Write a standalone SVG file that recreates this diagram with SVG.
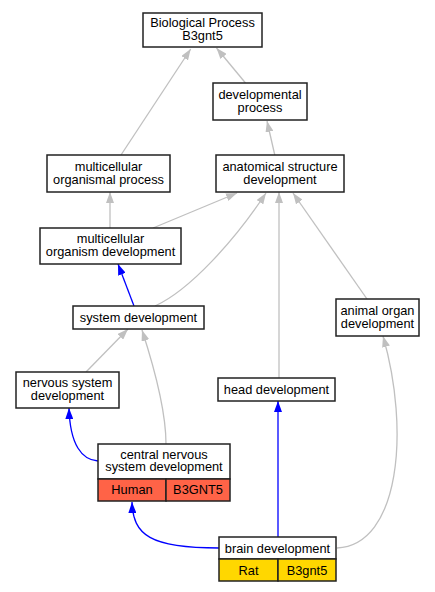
<svg xmlns="http://www.w3.org/2000/svg" width="435" height="592" viewBox="0 0 435 592">
<style>
text{font-family:"Liberation Sans",Arial,sans-serif;font-size:12.8px;fill:#000;text-anchor:middle}
.box{fill:#fff;stroke:#222;stroke-width:1.5}
.g{fill:none;stroke:#c0c0c0;stroke-width:1.3}
.b{fill:none;stroke:#0000ff;stroke-width:1.3}
.hum{fill:#ff6347;stroke:#222;stroke-width:1.5}
.rat{fill:#ffd700;stroke:#222;stroke-width:1.5}
</style>
<defs>
<marker id="ag" viewBox="0 0 11 8" refX="11" refY="4" markerWidth="11" markerHeight="8" markerUnits="userSpaceOnUse" orient="auto"><path d="M0,0L11,4L0,8z" fill="#c0c0c0"/></marker>
<marker id="ab" viewBox="0 0 11 8" refX="11" refY="4" markerWidth="11" markerHeight="8" markerUnits="userSpaceOnUse" orient="auto"><path d="M0,0L11,4L0,8z" fill="#0000ff"/></marker>
</defs>
<rect width="435" height="592" fill="#fff"/>
<g id="edges">
<path class="g" d="M121,155L190.7,49" marker-end="url(#ag)"/>
<path class="g" d="M245.5,83L216.5,48" marker-end="url(#ag)"/>
<path class="g" d="M275,156L267,121" marker-end="url(#ag)"/>
<path class="g" d="M110,228L110,192" marker-end="url(#ag)"/>
<path class="g" d="M153,228L237,193" marker-end="url(#ag)"/>
<path class="b" d="M134,306L118,264" marker-end="url(#ab)"/>
<path class="g" d="M155,306C190,290 235,240 266,193" marker-end="url(#ag)"/>
<path class="g" d="M279,378L279,192" marker-end="url(#ag)"/>
<path class="g" d="M367,299L293,193" marker-end="url(#ag)"/>
<path class="g" d="M86,372L128,329" marker-end="url(#ag)"/>
<path class="g" d="M166,444C166,410 155,370 142,330" marker-end="url(#ag)"/>
<path class="b" d="M98,461C82,460 70,445 69,408" marker-end="url(#ab)"/>
<path class="b" d="M278,537L278,401" marker-end="url(#ab)"/>
<path class="b" d="M219,548C150,548 133,535 132,502" marker-end="url(#ab)"/>
<path class="g" d="M337,548C400,545 410,430 383,336" marker-end="url(#ag)"/>
</g>
<g id="n_bp"><rect class="box" x="143" y="13" width="119" height="34"/><text x="202.5" y="27">Biological Process</text><text x="202.5" y="40">B3gnt5</text></g>
<g id="n_dp"><rect class="box" x="213" y="83" width="94" height="37"/><text x="260" y="98.5">developmental</text><text x="260" y="111.5">process</text></g>
<g id="n_mop"><rect class="box" x="47" y="155" width="123" height="37"/><text x="108.5" y="170.5">multicellular</text><text x="108.5" y="183.5">organismal process</text></g>
<g id="n_asd"><rect class="box" x="216" y="155" width="128" height="37"/><text x="280" y="170.5">anatomical structure</text><text x="280" y="183.5">development</text></g>
<g id="n_mod"><rect class="box" x="40" y="228" width="141" height="36"/><text x="110.5" y="243">multicellular</text><text x="110.5" y="256">organism development</text></g>
<g id="n_sd"><rect class="box" x="73" y="306" width="131" height="23"/><text x="138.5" y="322">system development</text></g>
<g id="n_ao"><rect class="box" x="336" y="299" width="83" height="37"/><text x="377.5" y="314.5">animal organ</text><text x="377.5" y="327.5">development</text></g>
<g id="n_nsd"><rect class="box" x="16" y="372" width="103" height="36"/><text x="67.5" y="387">nervous system</text><text x="67.5" y="400">development</text></g>
<g id="n_head"><rect class="box" x="218" y="378" width="117" height="23"/><text x="276.5" y="394">head development</text></g>
<g id="n_cns"><rect class="box" x="98" y="444" width="132" height="35"/><text x="164" y="458.5">central nervous</text><text x="164" y="471">system development</text><rect class="hum" x="98" y="479" width="68" height="22"/><rect class="hum" x="166" y="479" width="64" height="22"/><text x="132" y="494">Human</text><text x="198" y="494">B3GNT5</text></g>
<g id="n_brain"><rect class="box" x="219" y="537" width="117" height="22"/><text x="277.5" y="552.5">brain development</text><rect class="rat" x="219" y="559" width="59" height="22"/><rect class="rat" x="278" y="559" width="58" height="22"/><text x="248.5" y="574.5">Rat</text><text x="307" y="574.5">B3gnt5</text></g>
</svg>
